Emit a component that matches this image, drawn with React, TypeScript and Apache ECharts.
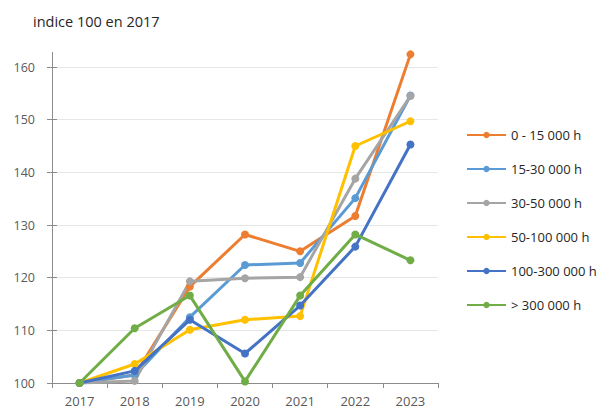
import React, { useEffect, useRef } from "react";
import * as echarts from "echarts";

const years = ["2017", "2018", "2019", "2020", "2021", "2022", "2023"];

const seriesNames = [
  "0 - 15 000 h",
  "15-30 000 h",
  "30-50 000 h",
  "50-100 000 h",
  "100-300 000 h",
  "> 300 000 h",
];

const colors = ["#ED7D31", "#5B9BD5", "#A5A5A5", "#FFC000", "#4472C4", "#70AD47"];

const v0to15 = [100, 101.5, 118.3, 128.2, 125.0, 131.7, 162.4];
const v15to30 = [100, 101.5, 112.5, 122.4, 122.8, 135.1, 154.6];
const v30to50 = [100, 100.4, 119.3, 119.9, 120.1, 138.8, 154.5];
const v50to100 = [100, 103.6, 110.1, 112.0, 112.7, 145.0, 149.7];
const v100to300 = [100, 102.3, 112.0, 105.6, 114.7, 125.9, 145.3];
const vOver300 = [100, 110.4, 116.6, 100.3, 116.6, 128.2, 123.3];

const seriesValues = [v0to15, v15to30, v30to50, v50to100, v100to300, vOver300];

const titleText = "indice 100 en 2017";
const FONT = "'Open Sans', 'Noto Sans', 'DejaVu Sans', sans-serif";

export default function App() {
  const ref = useRef<HTMLDivElement>(null);

  useEffect(() => {
    if (!ref.current) return;
    const chart = echarts.init(ref.current, undefined, { renderer: "svg" });
    const axisColor = "#8c8c8c";
    chart.setOption({
      animation: false,
      backgroundColor: "#ffffff",
      title: {
        text: titleText,
        left: 33,
        top: 14,
        padding: 0,
        textStyle: { fontFamily: FONT, fontSize: 14.5, fontWeight: "normal", color: "#262626" },
      },
      grid: { left: 52, right: 171, top: 67, bottom: 26, containLabel: false },
      legend: {
        orient: "vertical",
        left: 466,
        top: 128,
        padding: 0,
        itemWidth: 39,
        itemHeight: 8,
        itemGap: 20,
        data: seriesNames,
        lineStyle: { width: 2 },
        textStyle: { fontFamily: FONT, fontSize: 13, color: "#262626", lineHeight: 14 },
      },
      xAxis: {
        type: "category",
        data: years,
        boundaryGap: true,
        axisLine: { lineStyle: { color: axisColor, width: 1 } },
        axisTick: { show: true, alignWithLabel: false, length: 5, lineStyle: { color: axisColor } },
        axisLabel: { margin: 11, fontFamily: FONT, fontSize: 13, color: "#595959" },
        splitLine: { show: false },
      },
      yAxis: [
        {
          type: "value",
          min: 100,
          max: 160,
          interval: 10,
          axisLine: { show: true, lineStyle: { color: axisColor, width: 1 } },
          axisTick: { show: true, length: 5, lineStyle: { color: axisColor } },
          axisLabel: { margin: 17, fontFamily: FONT, fontSize: 12.5, color: "#595959" },
          splitLine: { show: true, lineStyle: { color: "#e6e6e6", width: 1 } },
        },
        {
          type: "value",
          position: "left",
          min: 100,
          max: 160,
          interval: 10,
          axisLine: { show: false },
          axisTick: { show: true, inside: true, length: 5, lineStyle: { color: axisColor } },
          axisLabel: { show: false },
          splitLine: { show: false },
        },
      ],
      graphic: [
        {
          type: "line",
          shape: { x1: 52.5, y1: 52, x2: 52.5, y2: 67 },
          style: { stroke: axisColor, lineWidth: 1 },
          z: 5,
        },
      ],
      series: seriesNames.map((name, i) => ({
        name,
        type: "line",
        yAxisIndex: 0,
        data: seriesValues[i],
        clip: false,
        symbol: "circle",
        symbolSize: 8,
        showSymbol: true,
        color: colors[i],
        lineStyle: { width: 3, color: colors[i] },
        itemStyle: { color: colors[i] },
        emphasis: { disabled: true },
      })),
    });
    return () => chart.dispose();
  }, []);

  return (
    <div
      ref={ref}
      style={{ position: "fixed", left: 0, top: 0, width: 609, height: 409 }}
    />
  );
}
